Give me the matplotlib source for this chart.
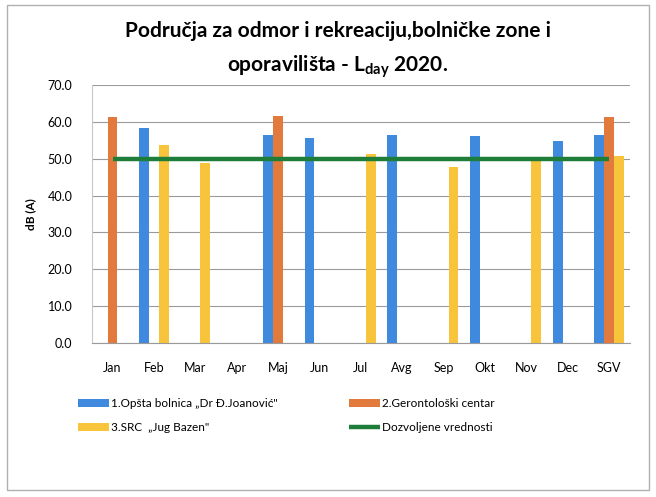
import numpy as np
import matplotlib
matplotlib.use('Agg')
import matplotlib.pyplot as plt
from matplotlib.patches import Rectangle

plt.rcParams['font.family'] = ['Lato', 'DejaVu Sans']
plt.rcParams['mathtext.fontset'] = 'custom'
plt.rcParams['mathtext.rm'] = 'Lato:bold'

months = ['Jan', 'Feb', 'Mar', 'Apr', 'Maj', 'Jun', 'Jul', 'Avg', 'Sep', 'Okt', 'Nov', 'Dec', 'SGV']
nan = np.nan
bolnica = [nan, 58.3, nan, nan, 56.4, 55.6, nan, 56.4, nan, 56.2, nan, 54.7, 56.4]
gerontoloski = [61.4, nan, nan, nan, 61.6, nan, nan, nan, nan, nan, nan, nan, 61.2]
bazen = [nan, 53.6, 48.7, nan, nan, nan, 51.2, nan, 47.8, nan, 49.6, nan, 50.7]
dozvoljeno = [50.0] * len(months)

labels = ['1.Opšta bolnica \u201eDr Đ.Joanović"', '2.Gerontološki centar',
          '3.SRC  \u201eJug Bazen"', 'Dozvoljene vrednosti']

c_blue = '#3f8ade'
c_orange = '#e27a3e'
c_yellow = '#f7c43c'
c_green = '#1f7d3a'

fig = plt.figure(figsize=(6.56, 4.97), dpi=100)
ax = fig.add_axes([0.140, 0.310, 0.820, 0.519])

x = np.arange(len(months))
w = 0.24
b1 = ax.bar(x - w, bolnica, w, color=c_blue)
b2 = ax.bar(x, gerontoloski, w, color=c_orange)
b3 = ax.bar(x + w, bazen, w, color=c_yellow)
ln, = ax.plot(x, dozvoljeno, color=c_green, lw=3.2, solid_capstyle='butt')

ax.set_xlim(-0.5, len(months) - 0.5)
ax.set_ylim(0, 70)
ax.set_yticks(np.arange(0, 71, 10))
ax.set_yticklabels([f'{v:.1f}' for v in np.arange(0, 71, 10)], fontsize=9)
ax.set_xticks(x)
ax.set_xticklabels(months, fontsize=9)
ax.tick_params(length=0)
ax.tick_params(axis='x', pad=14)
ax.tick_params(axis='y', pad=14)
ax.grid(axis='y', color='#9a9a9a', lw=0.8)
ax.set_axisbelow(True)
for s in ['top', 'right']:
    ax.spines[s].set_visible(False)
ax.spines['left'].set_color('#c8c8c8')
ax.spines['bottom'].set_color('#9a9a9a')
ax.set_ylabel('dB (A)', fontsize=8.5, fontweight='bold', labelpad=8)

fig.text(0.515, 0.937, 'Područja za odmor i rekreaciju,bolničke zone i',
         ha='center', va='center', fontsize=15, fontweight='bold')
fig.text(0.515, 0.866, r'oporavilišta - L$_{\mathrm{day}}$ 2020.',
         ha='center', va='center', fontsize=15, fontweight='bold')

fig.legend([b1, b3, b2, ln], [labels[0], labels[2], labels[1], labels[3]],
           ncol=2, loc='upper left', bbox_to_anchor=(0.103, 0.22),
           frameon=False, fontsize=8.5, handlelength=2.6, handleheight=0.6,
           columnspacing=6.0, labelspacing=1.1, handletextpad=0.2)

fig.patches.append(Rectangle((0.01, 0.015), 0.98, 0.975, transform=fig.transFigure,
                             fill=False, edgecolor='#b0b0b0', lw=1))

fig.savefig('out.png', dpi=100)
